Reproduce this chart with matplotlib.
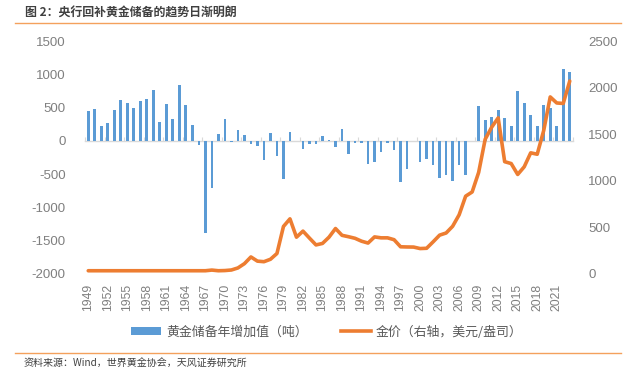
import matplotlib
matplotlib.use("Agg")
import matplotlib.pyplot as plt
from matplotlib.patches import Patch
from matplotlib.lines import Line2D

plt.rcParams['font.family'] = ['Liberation Sans', 'Noto Sans CJK SC', 'DejaVu Sans']

years = list(range(1949, 2024))
reserve_change = [
    450, 485, 220, 270, 460, 615, 575, 500, 600, 635,      # 1949-1958
    765, 290, 560, 330, 845, 535, 245, -55, -1380, -705,   # 1959-1968
    105, 335, -20, 160, 85, -50, -75, -295, 125, -225,     # 1969-1978
    -575, 140, 0, -125, -50, -40, 80, 12, -90, 172,        # 1979-1988
    -190, -30, -38, -355, -312, -172, -25, -130, -615, -418,  # 1989-1998
    0, -312, -276, -370, -565, -520, -607, -370, -507, 0,  # 1999-2008
    518, 318, 362, 470, 345, 228, 742, 570, 395, 228,      # 2009-2018
    542, 500, 218, 1078, 1032,                             # 2019-2023
]
gold_price = [
    35, 35, 35, 35, 35, 35, 35, 35, 35, 35,                # 1949-1958
    35, 35, 35, 35, 35, 35, 35, 35, 35, 42,                # 1959-1968
    35, 37, 43, 65, 111, 183, 138, 132, 158, 220,          # 1969-1978
    510, 592, 395, 460, 385, 312, 328, 395, 488, 415,      # 1979-1988
    400, 383, 352, 332, 398, 388, 388, 368, 292, 290,      # 1989-1998
    289, 273, 276, 345, 417, 440, 512, 635, 835, 880,      # 1999-2008
    1090, 1445, 1575, 1675, 1205, 1185, 1068, 1150, 1300, 1285,  # 2009-2018
    1540, 1900, 1835, 1830, 2070,                          # 2019-2023
]
left_ticks = [-2000, -1500, -1000, -500, 0, 500, 1000, 1500]
right_ticks = [0, 500, 1000, 1500, 2000, 2500]
label_years = years[::3]

title = "图 2：央行回补黄金储备的趋势日渐明朗"
legend_bar = "黄金储备年增加值（吨）"
legend_line = "金价（右轴，美元/盎司）"
source = "资料来源：Wind，世界黄金协会，天风证券研究所"

BLUE = "#5B9BD5"
ORANGE = "#ED7D31"
TICK = "#7F7F7F"

fig = plt.figure(figsize=(6.4, 3.71), dpi=100)
ax = fig.add_axes([85 / 640, 1 - 274 / 371, (573 - 85) / 640, (274 - 41) / 371])

x = list(range(len(years)))
ax.bar(x, reserve_change, width=0.42, color=BLUE, zorder=2)
ax.set_xlim(-0.5, len(years) - 0.5)
ax.set_ylim(-2000, 1500)
ax.set_yticks(left_ticks)
ax.set_yticklabels([str(v) for v in left_ticks])
ax.tick_params(axis='y', length=0, pad=14, labelsize=9.5, labelcolor=TICK)
ax.set_xticks([years.index(y) for y in label_years])
ax.set_xticklabels([str(y) for y in label_years], rotation=90)
ax.tick_params(axis='x', length=0, pad=7, labelsize=8.8, labelcolor=TICK)
for s in ax.spines.values():
    s.set_visible(False)

# zero axis line with category tick marks
zero_frac = (0 - (-2000)) / (1500 - (-2000))
sec = ax.secondary_xaxis(zero_frac)
sec.set_xticks([i - 0.5 for i in range(0, len(years) + 1, 3)])
sec.tick_params(axis='x', length=3, direction='out', color="#D9D9D9", labelbottom=False, labeltop=False)
sec.spines['bottom'].set_color("#D9D9D9")
sec.spines['top'].set_color("#D9D9D9")
sec.spines['bottom'].set_linewidth(1.0)
sec.spines['top'].set_linewidth(1.0)

ax2 = ax.twinx()
ax2.plot(x, gold_price, color=ORANGE, lw=2.6, solid_joinstyle='round', solid_capstyle='round', zorder=3)
ax2.set_ylim(0, 2500)
ax2.set_yticks(right_ticks)
ax2.set_yticklabels([str(v) for v in right_ticks])
ax2.tick_params(axis='y', length=0, pad=11, labelsize=9.5, labelcolor=TICK)
for s in ax2.spines.values():
    s.set_visible(False)

# title and rules
fig.text(25 / 640, 1 - 13 / 371, title, fontsize=8.6, fontweight='bold', color="#404040",
         va='center', ha='left', family=['Noto Sans CJK SC', 'DejaVu Sans'])
fig.add_artist(Line2D([15 / 640, 621 / 640], [1 - 22.5 / 371, 1 - 22.5 / 371],
                      transform=fig.transFigure, color="#F4A15C", lw=1.0))
fig.add_artist(Line2D([15 / 640, 621 / 640], [1 - 352.5 / 371, 1 - 352.5 / 371],
                      transform=fig.transFigure, color="#F4A15C", lw=1.0))
fig.text(24 / 640, 1 - 363.5 / 371, source, fontsize=7.2, color="#404040",
         va='center', ha='left', family=['Noto Sans CJK SC', 'DejaVu Sans'])

handles = [Patch(facecolor=BLUE, edgecolor='none', label=legend_bar),
           Line2D([], [], color=ORANGE, lw=2.6, label=legend_line)]
fig.legend(handles=handles, loc='center', bbox_to_anchor=(327 / 640, 1 - 332 / 371), ncol=2,
           frameon=False, handlelength=2.3, handleheight=0.5, columnspacing=2.6, handletextpad=0.4,
           prop={'family': ['Noto Sans CJK SC', 'DejaVu Sans'], 'size': 9.3}, labelcolor="#595959")

fig.savefig("out.png", dpi=100)
